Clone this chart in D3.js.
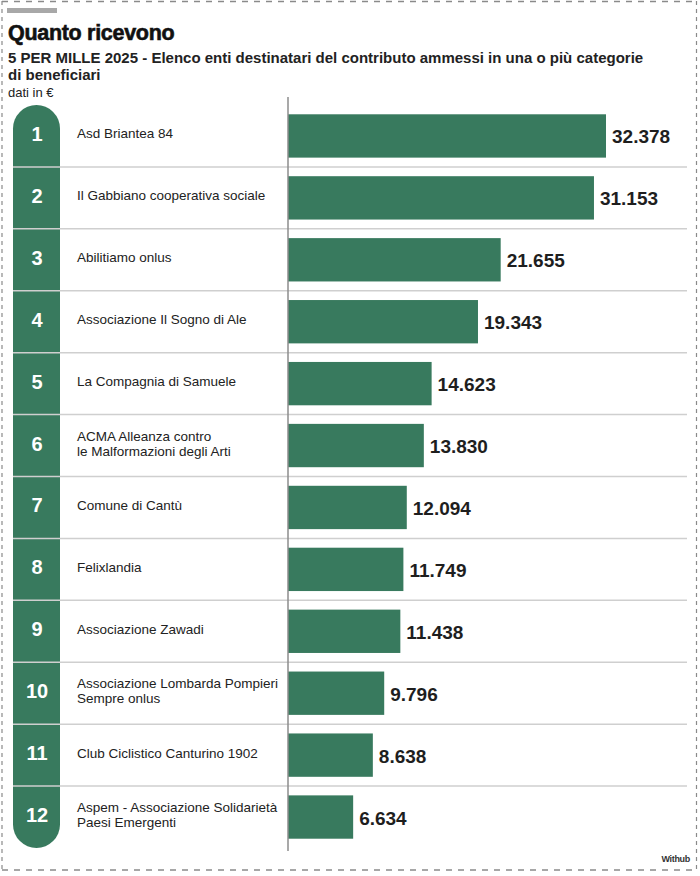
<!DOCTYPE html>
<html>
<head>
<meta charset="utf-8">
<script src="https://cdn.jsdelivr.net/npm/d3@7"></script>
<style>
  html, body { margin: 0; padding: 0; background: #fff; }
  svg { display: block; }
</style>
</head>
<body>
<script>
// ---- DATA ----
const ranks = ["1","2","3","4","5","6","7","8","9","10","11","12"];
const names = [
  "Asd Briantea 84",
  "Il Gabbiano cooperativa sociale",
  "Abilitiamo onlus",
  "Associazione Il Sogno di Ale",
  "La Compagnia di Samuele",
  "ACMA Alleanza contro\nle Malformazioni degli Arti",
  "Comune di Cantù",
  "Felixlandia",
  "Associazione Zawadi",
  "Associazione Lombarda Pompieri\nSempre onlus",
  "Club Ciclistico Canturino 1902",
  "Aspem - Associazione Solidarietà\nPaesi Emergenti"
];
const values = [32378, 31153, 21655, 19343, 14623, 13830, 12094, 11749, 11438, 9796, 8638, 6634];
const title = "Quanto ricevono";
const subtitleLines = ["5 PER MILLE 2025 - Elenco enti destinatari del contributo ammessi in una o più categorie", "di beneficiari"];
const unitNote = "dati in €";
const source = "Withub";

// ---- CHART ----
(function () {
const W = 700, H = 876;
const green = "#387a5e";
const svg = d3.select("body").append("svg").attr("width", W).attr("height", H);
const font = "'Liberation Sans', Arial, sans-serif";

const locale = d3.formatLocale({decimal: ",", thousands: ".", grouping: [3], currency: ["", "€"]});
const fmt = locale.format(",");

const y = d3.scaleBand().domain(ranks).range([105, 848]).paddingInner(0.3).paddingOuter(0.15);
const x = d3.scaleLinear().domain([0, d3.max(values)]).range([288, 606]);
const step = y.step();
const half = step * y.paddingInner() / 2;

// dashed frame
svg.append("line").attr("x1", 2).attr("x2", 697).attr("y1", 1.5).attr("y2", 1.5)
  .attr("stroke", "#8a8a8a").attr("stroke-width", 1.5).attr("stroke-dasharray", "6,6");
svg.append("line").attr("x1", 2).attr("x2", 697).attr("y1", 870).attr("y2", 870)
  .attr("stroke", "#8a8a8a").attr("stroke-width", 1.5).attr("stroke-dasharray", "6,6");
svg.append("line").attr("x1", 2).attr("x2", 2).attr("y1", 1).attr("y2", 870)
  .attr("stroke", "#8a8a8a").attr("stroke-width", 1.2).attr("stroke-dasharray", "4,4");
svg.append("line").attr("x1", 696.5).attr("x2", 696.5).attr("y1", 1).attr("y2", 870)
  .attr("stroke", "#8a8a8a").attr("stroke-width", 1.2).attr("stroke-dasharray", "4,4");

// grey tab
svg.append("rect").attr("x", 7).attr("y", 8).attr("width", 50).attr("height", 5).attr("fill", "#a8a8a8");

// titles
svg.append("text").attr("x", 8).attr("y", 40).text(title)
  .attr("font-family", font).attr("font-weight", "bold").attr("font-size", 21.5)
  .attr("fill", "#111").attr("letter-spacing", -0.3)
  .attr("stroke", "#111").attr("stroke-width", 0.6);
svg.append("text").attr("font-family", font).attr("font-weight", "bold").attr("font-size", 15)
  .attr("fill", "#222")
  .selectAll("tspan").data(subtitleLines).join("tspan")
  .attr("x", 8).attr("y", (d, i) => 63 + i * 17).text(d => d);
svg.append("text").attr("x", 8).attr("y", 97).text(unitNote)
  .attr("font-family", font).attr("font-size", 13).attr("fill", "#222");

// pill
const y0 = y.range()[0], y1 = y.range()[1];
svg.append("rect").attr("x", 13).attr("y", y0).attr("width", 47).attr("height", y1 - y0)
  .attr("rx", 23.5).attr("ry", 23.5).attr("fill", green);

// bars
svg.append("g").selectAll("rect").data(values).join("rect")
  .attr("x", x(0)).attr("y", (d, i) => y(ranks[i]))
  .attr("width", d => x(d) - x(0)).attr("height", y.bandwidth())
  .attr("fill", green);

// separators
svg.append("g").selectAll("line").data(ranks.slice(1)).join("line")
  .attr("x1", 13).attr("x2", 687)
  .attr("y1", d => y(d) - half).attr("y2", d => y(d) - half)
  .attr("stroke", "#cfcfcf").attr("stroke-width", 1.5);

// vertical axis line
svg.append("line").attr("x1", x(0)).attr("x2", x(0)).attr("y1", 97).attr("y2", 851)
  .attr("stroke", "#8c8c8c").attr("stroke-width", 1.5);

// rank numbers
svg.append("g").selectAll("text").data(ranks).join("text")
  .attr("x", 37).attr("y", d => y(d) + y.bandwidth() / 2 - 2)
  .attr("text-anchor", "middle").attr("dominant-baseline", "central")
  .attr("font-family", font).attr("font-weight", "bold").attr("font-size", 20)
  .attr("fill", "#fff").text(d => d);

// names
const nameG = svg.append("g").attr("font-family", font).attr("font-size", 13.5).attr("fill", "#222");
names.forEach((n, i) => {
  const lines = n.split("\n");
  const cy = y(ranks[i]) + y.bandwidth() / 2 - 2;
  const lh = 15;
  const t = nameG.append("text");
  lines.forEach((l, j) => {
    t.append("tspan").attr("x", 77)
      .attr("y", cy + (j - (lines.length - 1) / 2) * lh)
      .attr("dominant-baseline", "central").text(l);
  });
});

// value labels
svg.append("g").selectAll("text").data(values).join("text")
  .attr("x", d => x(d) + 6).attr("y", (d, i) => y(ranks[i]) + y.bandwidth() / 2 + 1)
  .attr("dominant-baseline", "central")
  .attr("font-family", font).attr("font-weight", "bold").attr("font-size", 19)
  .attr("fill", "#1e1e1e").text(d => fmt(d));

// source
svg.append("text").attr("x", 690).attr("y", 862).attr("text-anchor", "end")
  .attr("font-family", font).attr("font-weight", "bold").attr("font-size", 9)
  .attr("fill", "#333").attr("letter-spacing", -0.3).text(source);
})();
</script>
</body>
</html>
